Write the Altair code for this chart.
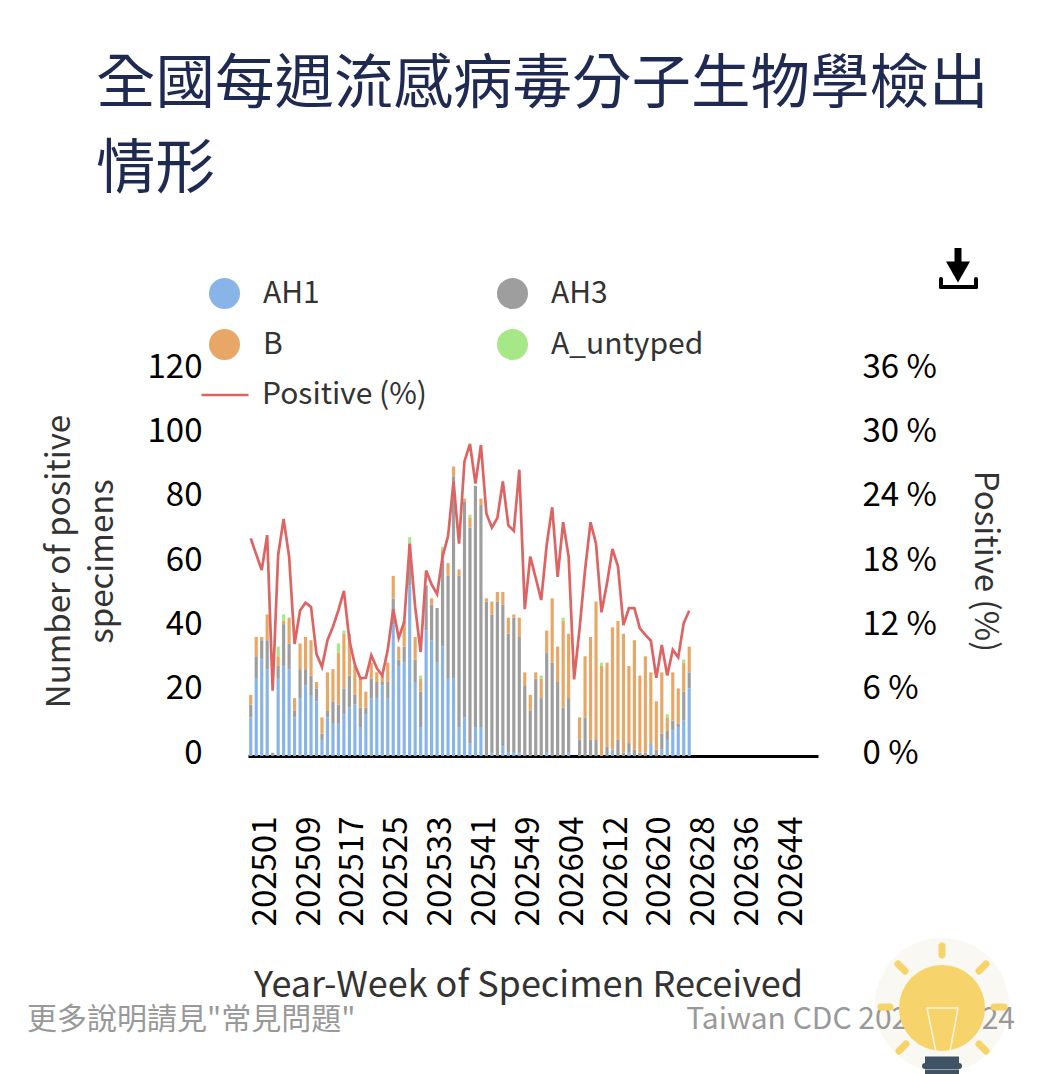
import altair as alt
import pandas as pd

FONT = "Noto Sans CJK TC"
weeks = [f"2025{w:02d}" for w in range(1, 54)] + [f"2026{w:02d}" for w in range(1, 52)]
tick_weeks = weeks[::8]

ah1 = [12,24,30,27,0,24,28,27,12,18,22,19,17,5,12,10,10,13,15,16,9,13,18,18,22,18,41,28,29,53,23,9,39,36,29,34,24,24,9,12,4,9,9,0,1,0,3,1,1,1,0,0,0,0,1,0,0,0,1,0,0,0,0,0,0,0,2,0,0,1,0,0,0,4,0,2,5,8,9,11,21]
ah3 = [4,7,6,9,1,4,13,8,2,9,5,6,4,2,2,7,6,8,10,3,6,2,6,5,1,5,8,2,5,12,7,11,14,11,17,27,32,63,47,67,67,75,69,48,43,48,44,37,42,36,22,14,24,18,31,29,23,15,17,0,5,12,5,5,0,3,0,5,1,3,2,1,1,0,2,5,3,3,1,9,5]
b = [3,6,1,8,0,3,1,8,4,8,10,11,2,5,12,10,16,17,13,9,9,5,5,3,2,6,7,4,8,1,7,4,0,2,0,3,4,3,2,1,3,0,2,1,4,3,4,5,1,6,4,5,2,6,7,20,11,27,20,0,7,19,32,43,28,26,38,37,37,24,34,24,30,22,15,19,4,15,11,9,8]
a_untyped = [0,0,0,0,0,3,2,0,0,0,0,0,0,0,0,0,3,1,0,0,0,0,0,0,0,0,0,0,0,2,0,1,0,0,0,1,0,0,0,0,1,0,0,0,0,0,0,0,0,0,0,0,0,1,0,0,0,1,0,0,0,0,0,0,1,0,0,0,0,0,0,0,0,0,0,0,1,0,0,1,0]
positive = [20.3,18.8,17.35,20.6,6.1,18.75,22.1,18.6,10.45,13.56,14.3,13.9,9.5,8.3,10.8,12.06,13.6,15.4,10.8,8.5,7.25,7.3,9.4,8.2,7.5,9.9,13.7,11,12.5,19.8,13.9,9.7,17.3,16,15.1,18.6,20.5,25.6,19.8,27.5,29.1,25.4,29,22.6,21.3,22.2,25.6,21.5,21,26.7,13.7,18.6,16.6,14.55,19.7,23.2,16.7,21.8,18.6,7.15,11.9,17.35,21.8,19.8,13.4,16.1,19.3,17.7,12.2,13.8,13.8,11.9,11.3,10.75,7.3,10.35,7.5,9.9,9.2,12.4,13.55]

series_names = ["AH1", "AH3", "B", "A_untyped"]
series_vals = [ah1, ah3, b, a_untyped]
series_cols = ["#89b4e8", "#9e9e9e", "#e9a767", "#a6e887"]

rows = []
for k, (n, vals) in enumerate(zip(series_names, series_vals)):
    for i, v in enumerate(vals):
        rows.append({"week": weeks[i], "series": n, "count": v, "k": k})
bars_df = pd.DataFrame(rows)
line_df = pd.DataFrame({"week": weeks[:len(positive)], "pos": positive, "name": "Positive (%)"})

X0, Y0 = 248, 370
W, H = 570, 386
xs = alt.Scale(domain=weeks, paddingInner=0.42, paddingOuter=0.21)

bars = alt.Chart(bars_df).mark_bar().encode(
    x=alt.X("week:N", scale=xs, title="Year-Week of Specimen Received",
            axis=alt.Axis(values=tick_weeks, labelAngle=270, labelAlign="right", labelBaseline="middle",
                          labelPadding=60, labelOffset=15, labelFontSize=33, labelColor="#000", ticks=False,
                          labelOverlap=False, domainColor="#000", domainWidth=3, titleFontSize=36,
                          titleColor="#333", titleFontWeight="normal", titleFont=FONT, labelFont=FONT,
                          titleX=280, titleY=229, titleBaseline="middle", titleAlign="center")),
    y=alt.Y("count:Q", stack="zero", scale=alt.Scale(domain=[0, 120]),
            title=["Number of positive", "specimens"],
            axis=alt.Axis(values=[0, 20, 40, 60, 80, 100, 120], grid=False, ticks=False, domain=False,
                          labelFontSize=33, labelColor="#000", labelPadding=46, labelOffset=-3, labelFont=FONT,
                          titleFont=FONT, titleFontSize=33, titleColor="#333", titleFontWeight="normal",
                          titleX=-172, titleY=191, titleAlign="center", titleLineHeight=43)),
    color=alt.Color("series:N", scale=alt.Scale(domain=series_names, range=series_cols),
                    legend=alt.Legend(orient="none", legendX=-39, legendY=-92, columns=2, title=None,
                                      direction="horizontal",
                                      symbolType="circle", symbolSize=961, symbolStrokeWidth=0, symbolOpacity=1,
                                      labelFontSize=30, labelFont=FONT, labelColor="#333", labelOffset=23,
                                      labelLimit=400, columnPadding=177, rowPadding=20, padding=0)),
    order=alt.Order("k:Q"),
)

line = alt.Chart(line_df).mark_line(strokeWidth=2.7).encode(
    x=alt.X("week:N", scale=xs),
    y=alt.Y("pos:Q", scale=alt.Scale(domain=[0, 36]), title="Positive (%)",
            axis=alt.Axis(orient="right", values=[0, 6, 12, 18, 24, 30, 36], grid=False, ticks=False, domain=False,
                          labelFontSize=33, labelColor="#000", labelPadding=44, labelOffset=-3, labelFont=FONT,
                          labelExpr="datum.value + ' %'",
                          titleFont=FONT, titleFontSize=33, titleColor="#333", titleFontWeight="normal",
                          titleX=149, titleY=191, titleAlign="center", titleAngle=90)),
    stroke=alt.Stroke("name:N", scale=alt.Scale(domain=["Positive (%)"], range=["#de6464"]),
                      legend=alt.Legend(orient="none", legendX=-48, legendY=0, title=None, symbolType="stroke",
                                        symbolSize=2209, symbolStrokeWidth=2.7, labelFontSize=30, labelFont=FONT,
                                        labelColor="#333", labelOffset=12, labelLimit=400, padding=0)),
)

one = pd.DataFrame({"a": [0]})

def text(s, px, py, size, color, align="left"):
    return alt.Chart(one).mark_text(text=s, font=FONT, fontSize=size, color=color, align=align, baseline="middle").encode(
        x=alt.value(px - X0), y=alt.value(py - Y0))

def seg(x1, y1, x2, y2, color, width, cap="round"):
    return alt.Chart(one).mark_rule(color=color, strokeWidth=width, strokeCap=cap).encode(
        x=alt.value(x1 - X0), x2=alt.value(x2 - X0), y=alt.value(y1 - Y0), y2=alt.value(y2 - Y0))

def dot(px, py, d, color, shape="circle"):
    return alt.Chart(one).mark_point(filled=True, opacity=1, color=color, shape=shape, size=d * d, strokeWidth=0).encode(
        x=alt.value(px - X0), y=alt.value(py - Y0))

extras = [
    text("全國每週流感病毒分子生物學檢出", 96, 85, 59.5, "#1f2a52"),
    text("情形", 96, 170, 59.5, "#1f2a52"),
    text('更多說明請見"常見問題"', 27, 1020, 30, "#999999"),
    # download icon
    seg(958, 248, 958, 268, "#000", 7, "butt"),
    dot(958, 272, 24, "#000", "triangle-down"),
    seg(941, 279, 941, 287, "#000", 4),
    seg(976, 279, 976, 287, "#000", 4),
    seg(941, 287, 976, 287, "#000", 4),
    # light bulb
    dot(942, 1005, 134, "#faf8f2"),
    text("Taiwan CDC 2026/07/24", 1015, 1020, 30, "#999999", "right"),
    seg(942, 946, 942, 955, "#f7d36b", 7),
    seg(898, 964, 905, 971, "#f7d36b", 7),
    seg(986, 964, 979, 971, "#f7d36b", 7),
    seg(881, 1007, 890, 1007, "#f7d36b", 7),
    seg(994, 1007, 1004, 1007, "#f7d36b", 7),
    seg(899, 1051, 906, 1044, "#f7d36b", 7),
    seg(986, 1051, 979, 1044, "#f7d36b", 7),
    dot(942, 1008, 86, "#f7d36b"),
    seg(927, 1008, 958, 1008, "#fff5dc", 1.5),
    seg(927, 1008, 937, 1057, "#fff5dc", 1.5),
    seg(958, 1008, 949, 1057, "#fff5dc", 1.5),
    seg(925, 1060, 959, 1060, "#3f5364", 7, "butt"),
    seg(925, 1066, 959, 1066, "#3f5364", 6),
    seg(925, 1072, 959, 1072, "#3f5364", 5, "butt"),
]

chart = alt.layer(bars, line, *extras).resolve_scale(y="independent", color="independent", stroke="independent").properties(
    width=W, height=H,
    autosize=alt.AutoSizeParams(type="none"),
    padding={"left": 240, "top": 362, "right": 217, "bottom": 318},
).configure_view(stroke=None)

chart.save("out.html", embed_options={"renderer": "svg", "actions": False})
